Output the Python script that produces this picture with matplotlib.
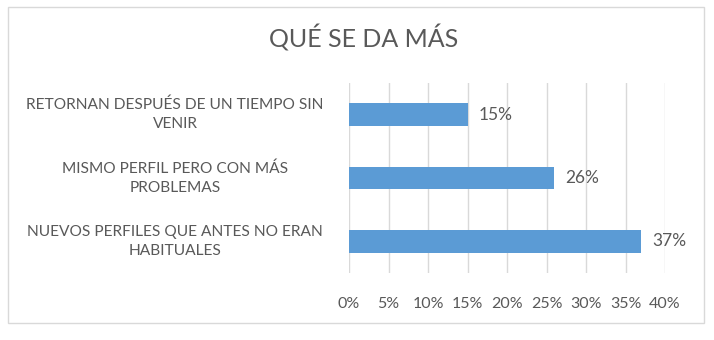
import matplotlib.pyplot as plt
from matplotlib.transforms import blended_transform_factory
from matplotlib.patches import Rectangle

categories = ["RETORNAN DESPUÉS DE UN TIEMPO SIN\nVENIR",
              "MISMO PERFIL PERO CON MÁS\nPROBLEMAS",
              "NUEVOS PERFILES QUE ANTES NO ERAN\nHABITUALES"]
values = [15, 26, 37]
xticks = [0, 5, 10, 15, 20, 25, 30, 35, 40]

text_col = "#595959"
bar_col = "#5b9bd5"
grid_col = "#d9d9d9"

plt.rcParams['font.family'] = ['Lato', 'DejaVu Sans']

fig = plt.figure(figsize=(7.14, 3.40), dpi=100)
fig.patches.append(Rectangle((8 / 714, 1 - 323 / 340), 696 / 714, 316 / 340,
                             transform=fig.transFigure, fill=False,
                             edgecolor=grid_col, linewidth=1))

ax = fig.add_axes([349 / 714, 1 - 273 / 340, 316 / 714, 190 / 340])
ypos = list(range(len(categories)))
ax.barh(ypos, values, height=0.36, color=bar_col, zorder=3)
ax.set_xlim(0, 40)
ax.set_ylim(2.5, -0.5)
ax.set_xticks(xticks)
ax.set_xticklabels([f"{t}%" for t in xticks], color=text_col, fontsize=11.5)
ax.tick_params(axis='x', length=0, pad=17)
ax.set_yticks([])
for s in ax.spines.values():
    s.set_visible(False)
ax.grid(axis='x', color=grid_col, linewidth=1, zorder=0)

# category labels centred in the left area
tr = blended_transform_factory(fig.transFigure, ax.transData)
for y, c in zip(ypos, categories):
    ax.text(175 / 714, y, c, transform=tr, ha='center', va='center',
            color=text_col, fontsize=11.2, linespacing=1.45)

for y, v in zip(ypos, values):
    ax.annotate(f"{v}%", (v, y), xytext=(8, 0), textcoords='offset points',
                va='center', ha='left', color=text_col, fontsize=12.5)

fig.text(364 / 714, 1 - 38 / 340, "QUÉ SE DA MÁS", ha='center', va='center',
         color=text_col, fontsize=18)

fig.savefig("out.png", dpi=100)
